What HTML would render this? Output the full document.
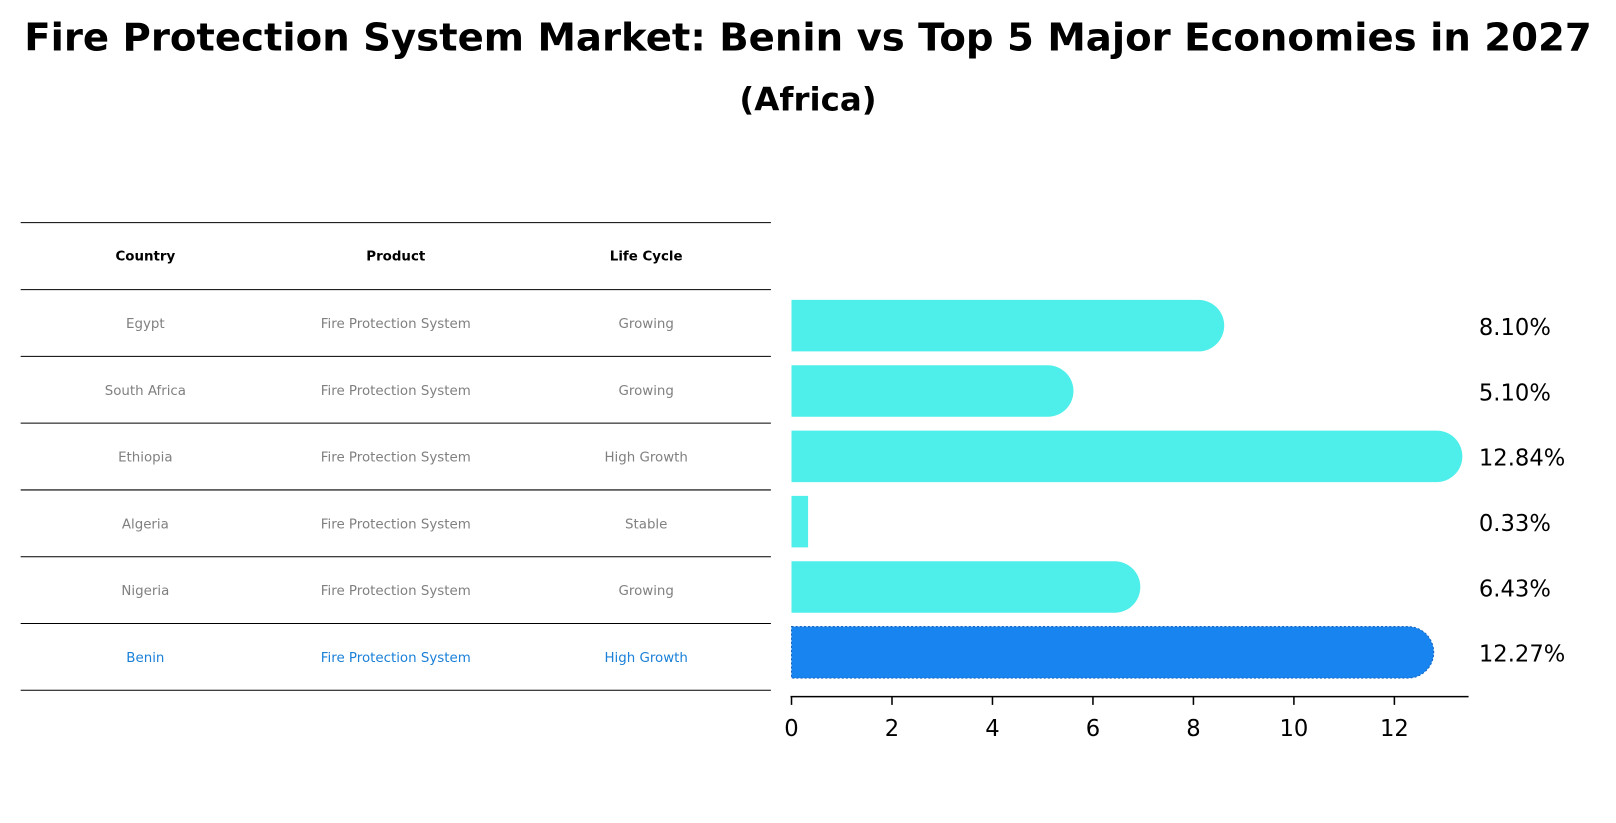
<!DOCTYPE html>
<html><head><meta charset="utf-8"><style>
body{margin:0;background:#fff;font-family:"Liberation Sans","DejaVu Sans",sans-serif;}
#wrap{position:relative;width:1616px;height:823px;overflow:hidden;}
</style></head><body>
<div id="wrap">
<svg id="svg" width="1616" height="823" viewBox="0 0 1568 798.6" xmlns="http://www.w3.org/2000/svg">
<text x="784" y="49" text-anchor="middle" font-size="37.5" font-weight="bold" font-family="DejaVu Sans, sans-serif">Fire Protection System Market: Benin vs Top 5 Major Economies in 2027</text>
<text x="784" y="107" text-anchor="middle" font-size="31.5" font-weight="bold" font-family="DejaVu Sans, sans-serif">(Africa)</text>
<g id="table"></g>
<g id="bars"></g>
</svg>
</div>
<script>
const countries=["Egypt","South Africa","Ethiopia","Algeria","Nigeria","Benin"];
const products=["Fire Protection System","Fire Protection System","Fire Protection System","Fire Protection System","Fire Protection System","Fire Protection System"];
const lifeCycles=["Growing","Growing","High Growth","Stable","Growing","High Growth"];
const values=[8.10,5.10,12.84,0.33,6.43,12.27];
const xTicks=[0,2,4,6,8,10,12];
const NS="http://www.w3.org/2000/svg";
function mk(t,a,p){const e=document.createElementNS(NS,t);for(const k in a)e.setAttribute(k,a[k]);p.appendChild(e);return e;}
const tbl=document.getElementById('table'),bars=document.getElementById('bars');
const rowY=i=>281+i*64.8;
const colX=[141,384,627];
for(let i=0;i<=7;i++){const y=i==0?216:rowY(i-1);
 const l=mk('line',{x1:20,x2:748,y1:y,y2:y,stroke:'#000','stroke-width':1},tbl);
 
 }
["Country","Product","Life Cycle"].forEach((h,j)=>{
 const t=mk('text',{x:colX[j],y:253,'text-anchor':'middle','font-size':13,'font-weight':'bold','font-family':'DejaVu Sans, sans-serif'},tbl);
 t.textContent=h;
 
 });
countries.forEach((c,i)=>{
 const cy=rowY(i)+32.4+5;const col=c==="Benin"?"#1a80d8":"#808080";
 [c,products[i],lifeCycles[i]].forEach((v,j)=>{
  const t=mk('text',{x:colX[j],y:cy,'text-anchor':'middle','font-size':13,fill:col,'font-family':'DejaVu Sans, sans-serif'},tbl);
  t.textContent=v;
  
  });});
const x0=768,sc=48.75;const X=v=>x0+v*sc;
const bc=i=>316+i*63.4;const bh=50;
values.forEach((v,i)=>{
 const benin=countries[i]==="Benin";const fill=benin?"#1784f0":"#4eeeea";
 const xe=X(v);const r=bh/2;
 let d;
 if(v<1){d=`M${x0},${bc(i)-r}H${xe}V${bc(i)+r}H${x0}Z`;}
 else{d=`M${x0},${bc(i)-r}H${xe}A${r},${r} 0 0 1 ${xe},${bc(i)+r}H${x0}Z`;}
 const p=mk('path',{d:d,fill:fill},bars);
 if(benin){p.setAttribute('stroke','#1565c0');p.setAttribute('stroke-dasharray','2,2');p.setAttribute('stroke-width','1');}
 
 
 const t=mk('text',{x:1435,y:bc(i)+9,'font-size':22,'font-family':'DejaVu Sans, sans-serif'},bars);
 t.textContent=v.toFixed(2)+"%";
 
 
});
const ax=mk('line',{x1:767,x2:1425,y1:676,y2:676,stroke:'#000','stroke-width':1.5},bars);


xTicks.forEach(v=>{
 const l=mk('line',{x1:X(v),x2:X(v),y1:676,y2:684,stroke:'#000','stroke-width':1.5},bars);
 
 
 const t=mk('text',{x:X(v),y:714,'text-anchor':'middle','font-size':22,'font-family':'DejaVu Sans, sans-serif'},bars);
 t.textContent=v;
 
 
});
</script>
</body></html>
